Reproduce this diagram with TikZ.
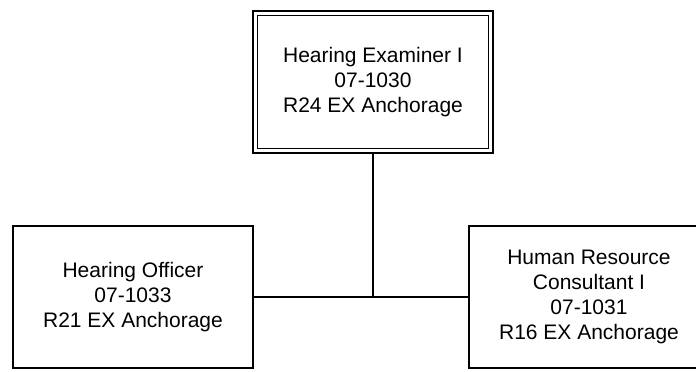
\documentclass[tikz,border=0pt]{standalone}
\usepackage{fontspec}
\setmainfont{Liberation Sans}
\begin{document}
\begin{tikzpicture}[x=0.5pt, y=-0.5pt,
    posbox/.style={draw, line width=0.75pt, outer sep=0pt, inner sep=0pt,
        minimum width=120pt, minimum height=71pt, align=center,
        font=\fontsize{10.5}{12.5}\selectfont},
    link/.style={line width=0.75pt}]
    % Canvas
    \useasboundingbox (0,0) rectangle (696,371);
    \clip (0,0) rectangle (696,371);
    % Supervisor (double frame)
    \node[posbox, line width=1pt] (examiner) at (373,82)
        {Hearing Examiner I\\07-1030\\R24 EX Anchorage};
    \draw[line width=0.6pt] ([shift={(2.25pt,-2.25pt)}]examiner.north west)
        rectangle ([shift={(-2.25pt,2.25pt)}]examiner.south east);
    % Subordinates
    \node[posbox] (officer) at (133,297)
        {Hearing Officer\\07-1033\\R21 EX Anchorage};
    \node[posbox] (consultant) at (589,297)
        {Human Resource\\Consultant I\\07-1031\\R16 EX Anchorage};
    % Connectors
    \draw[link] (examiner.south) -- (examiner.south |- officer.east);
    \draw[link] (officer.east) -- (consultant.west);
\end{tikzpicture}
\end{document}
